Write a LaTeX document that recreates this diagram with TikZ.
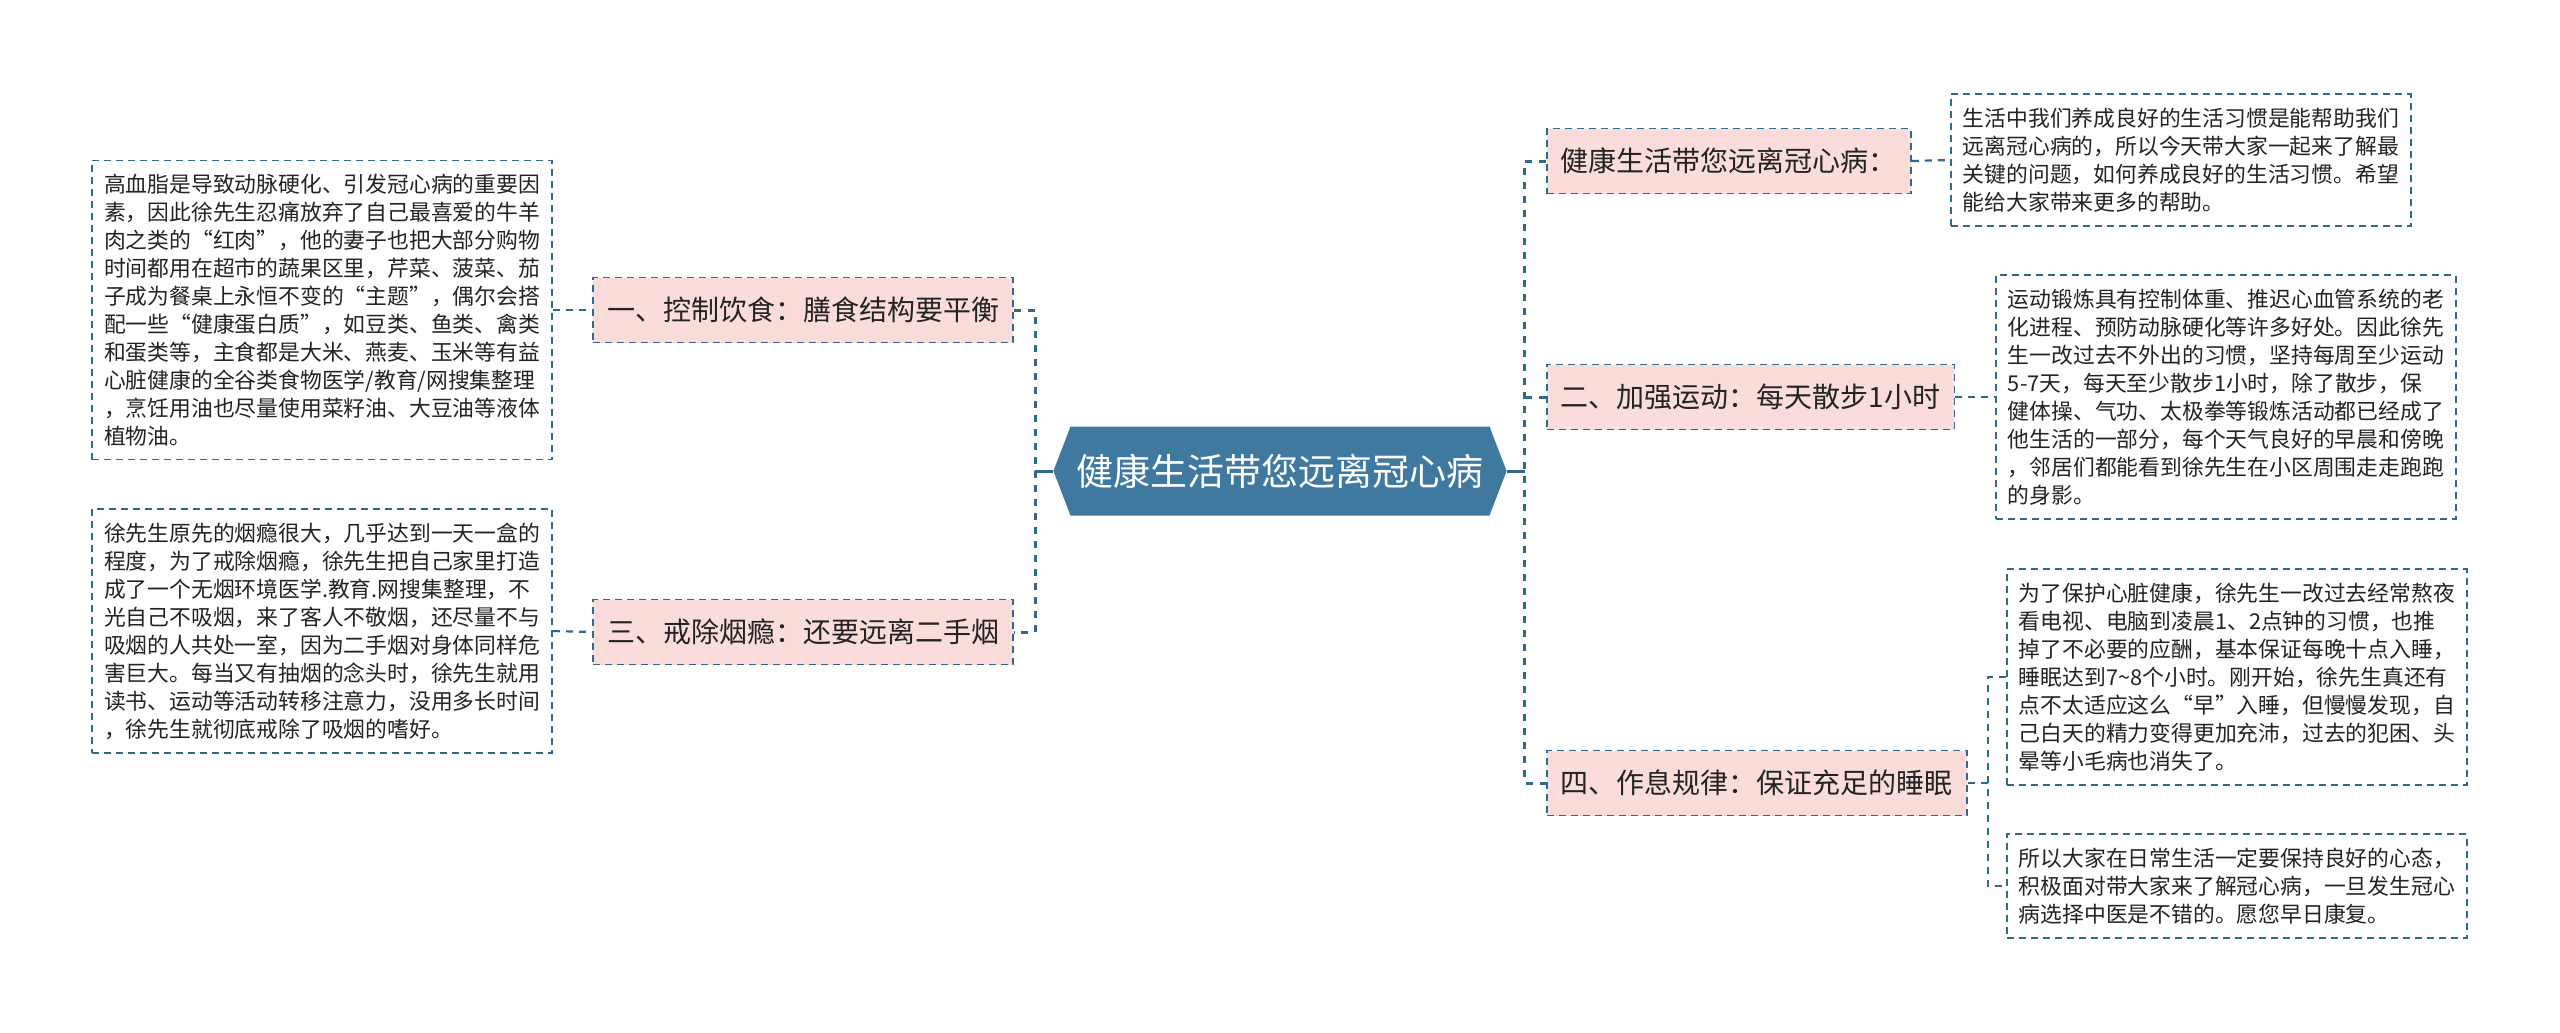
\documentclass[tikz,border=0pt]{standalone}
\usepackage{fontspec}
\setmainfont{Noto Sans CJK SC}
\usepackage{tikz}
\usetikzlibrary{shapes.symbols}
\definecolor{mline}{RGB}{47, 105, 140}
\definecolor{mpink}{RGB}{250, 220, 218}
\definecolor{mroot}{RGB}{64, 121, 160}
\definecolor{mtext}{RGB}{35, 35, 35}
\tikzset{rootbox/.style = {signal, signal to=east and west, signal pointer angle=138, fill=mroot, text=white, font=\fontsize{37}{40}\selectfont, minimum height=89pt, inner xsep=6pt}}
\tikzset{branch/.style = {draw=mline, line width=1.8pt, dash pattern=on 7pt off 5pt, fill=mpink, text=mtext, font=\fontsize{28}{32}\selectfont, inner xsep=14pt, minimum height=65pt}}
\tikzset{note/.style = {draw=mline, line width=1.8pt, dash pattern=on 7pt off 5pt, fill=white, text=mtext, align=left, font=\fontsize{21.8}{28}\selectfont, inner xsep=12pt, inner ysep=13.5pt}}
\tikzset{stem/.style = {draw=mline, line width=3pt}}
\tikzset{link/.style = {draw=mline, line width=3pt, dash pattern=on 7pt off 7pt}}
\tikzset{leaflink/.style = {draw=mline, line width=2.2pt, dash pattern=on 7pt off 6pt}}

\begin{document}
\begin{tikzpicture}[x=1pt, y=-1pt]
    \useasboundingbox (0, 0) rectangle (2560, 1033);

    \node [rootbox] (root) at (1280, 471) {健康生活带您远离冠心病};

    % left side
    \node [branch, anchor=east] (diet) at (1014, 310) {一、控制饮食：膳食结构要平衡};
    \node [branch, anchor=east] (smoke) at (1014, 632) {三、戒除烟瘾：还要远离二手烟};
    \node [note, anchor=east] (dietnote) at (553, 310) {高血脂是导致动脉硬化、引发冠心病的重要因\\素，因此徐先生忍痛放弃了自己最喜爱的牛羊\\肉之类的“红肉”，他的妻子也把大部分购物\\时间都用在超市的蔬果区里，芹菜、菠菜、茄\\子成为餐桌上永恒不变的“主题”，偶尔会搭\\配一些“健康蛋白质”，如豆类、鱼类、禽类\\和蛋类等，主食都是大米、燕麦、玉米等有益\\心脏健康的全谷类食物医学/教育/网搜集整理\\，烹饪用油也尽量使用菜籽油、大豆油等液体\\植物油。};
    \node [note, anchor=east] (smokenote) at (553, 631) {徐先生原先的烟瘾很大，几乎达到一天一盒的\\程度，为了戒除烟瘾，徐先生把自己家里打造\\成了一个无烟环境医学.教育.网搜集整理，不\\光自己不吸烟，来了客人不敬烟，还尽量不与\\吸烟的人共处一室，因为二手烟对身体同样危\\害巨大。每当又有抽烟的念头时，徐先生就用\\读书、运动等活动转移注意力，没用多长时间\\，徐先生就彻底戒除了吸烟的嗜好。};

    % right side
    \node [branch, anchor=west] (life) at (1546, 161) {健康生活带您远离冠心病：};
    \node [branch, anchor=west] (sport) at (1546, 397) {二、加强运动：每天散步1小时};
    \node [branch, anchor=west] (sleep) at (1546, 783) {四、作息规律：保证充足的睡眠};
    \node [note, anchor=west] (lifenote) at (1950, 160) {生活中我们养成良好的生活习惯是能帮助我们\\远离冠心病的，所以今天带大家一起来了解最\\关键的问题，如何养成良好的生活习惯。希望\\能给大家带来更多的帮助。};
    \node [note, anchor=west] (sportnote) at (1995, 397) {运动锻炼具有控制体重、推迟心血管系统的老\\化进程、预防动脉硬化等许多好处。因此徐先\\生一改过去不外出的习惯，坚持每周至少运动\\5-7天，每天至少散步1小时，除了散步，保\\健体操、气功、太极拳等锻炼活动都已经成了\\他生活的一部分，每个天气良好的早晨和傍晚\\，邻居们都能看到徐先生在小区周围走走跑跑\\的身影。};
    \node [note, anchor=west] (sleepnote) at (2006, 677) {为了保护心脏健康，徐先生一改过去经常熬夜\\看电视、电脑到凌晨1、2点钟的习惯，也推\\掉了不必要的应酬，基本保证每晚十点入睡，\\睡眠达到7\textasciitilde8个小时。刚开始，徐先生真还有\\点不太适应这么“早”入睡，但慢慢发现，自\\己白天的精力变得更加充沛，过去的犯困、头\\晕等小毛病也消失了。};
    \node [note, anchor=west] (restnote) at (2006, 886) {所以大家在日常生活一定要保持良好的心态，\\积极面对带大家来了解冠心病，一旦发生冠心\\病选择中医是不错的。愿您早日康复。};

    % connectors
    \draw [stem] (root.west) -- ++(-18, 0) coordinate (lhub);
    \draw [link] (diet.east) -| (lhub) |- (smoke.east);
    \draw [stem] (root.east) -- ++(18, 0) coordinate (rhub);
    \draw [link] (life.west) -| (rhub) |- (sleep.west);
    \draw [link] (rhub |- sport.west) -- (sport.west);
    \foreach \a/\b in {dietnote/diet, smokenote/smoke, life/lifenote, sport/sportnote} {
      \draw [leaflink] (\a.east) -- (\b.west);
    }
    \draw [leaflink] (sleep.east) -- ++(20, 0) coordinate (shub);
    \draw [leaflink] (sleepnote.west) -| (shub) |- (restnote.west);
\end{tikzpicture}
\end{document}
